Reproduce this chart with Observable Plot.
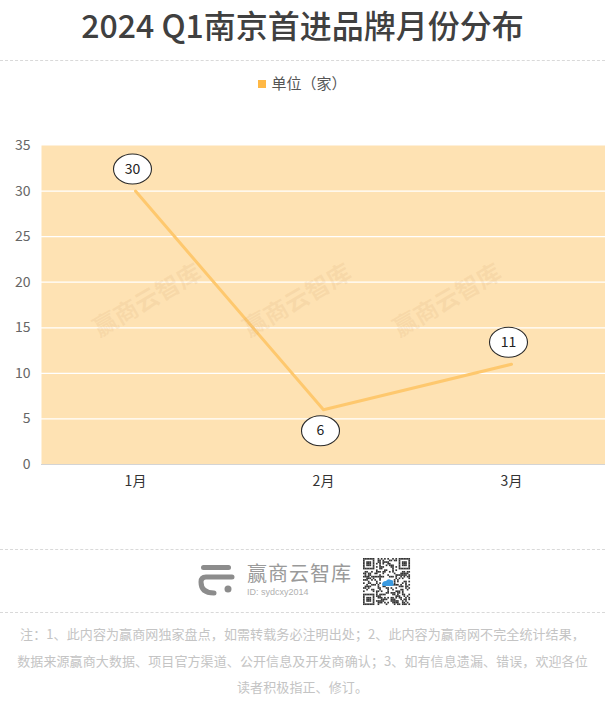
<!DOCTYPE html>
<html>
<head>
<meta charset="utf-8">
<script src="https://cdn.jsdelivr.net/npm/d3@7"></script>
<script src="https://cdn.jsdelivr.net/npm/@observablehq/plot@0.6"></script>
<style>
  html, body { margin: 0; padding: 0; background: #ffffff; }
  body { width: 605px; height: 701px; position: relative; overflow: hidden;
         font-family: "Noto Sans CJK SC", "Noto Sans", sans-serif; }
  .abs { position: absolute; }
  #title { left: 0; width: 605px; top: 3px; text-align: center; font-size: 32px;
           font-weight: 500; color: #404040; line-height: 42px; }
  .dash { left: 0; width: 605px; height: 0; border-top: 1px dashed #d9d9d9; }
  #legend { left: 0; width: 605px; top: 72px; text-align: center; font-size: 15px; color: #555; line-height: 22px; }
  #legend .sw { display: inline-block; width: 8px; height: 8px; background: #ffb845; margin-right: 5px; vertical-align: 1px; }
  .wm { font-size: 24px; font-weight: 700; color: rgba(215,165,110,0.16); transform: rotate(-30deg);
        transform-origin: center center; white-space: nowrap; pointer-events: none; }
  #foot { left: 0; width: 605px; top: 621px; text-align: center; font-size: 13px; color: #c4c4c4; line-height: 26.5px; letter-spacing: 0.1px; }
  #brand { left: 247px; top: 561px; font-size: 20px; color: #9a9a9a; line-height: 24px; letter-spacing: 1px; }
  #bid { left: 247px; top: 586px; font-size: 9px; color: #b0b0b0; line-height: 12px; font-family: "Liberation Sans", sans-serif; }
</style>
</head>
<body>
<script>
// ---- data ----
const months = ["1月", "2月", "3月"];
const counts = [30, 6, 11];
const yTicks = [0, 5, 10, 15, 20, 25, 30, 35];
const titleText = "2024 Q1南京首进品牌月份分布";
const legendText = "单位（家）";
const footLines = [
  "注：1、此内容为赢商网独家盘点，如需转载务必注明出处；2、此内容为赢商网不完全统计结果，",
  "数据来源赢商大数据、项目官方渠道、公开信息及开发商确认；3、如有信息遗漏、错误，欢迎各位",
  "读者积极指正、修订。"
];
const brandName = "赢商云智库";
const brandId = "ID: sydcxy2014";

const data = months.map((m, i) => {
  const prev = i > 0 ? counts[i - 1] : -Infinity;
  const next = i < counts.length - 1 ? counts[i + 1] : -Infinity;
  const isMin = i > 0 && counts[i] < prev && counts[i] < next;
  return { month: m, value: counts[i], below: isMin };
});
const above = data.filter(d => !d.below), below = data.filter(d => d.below);

// ellipse symbol
const ellipse = {
  draw(ctx, size) {
    const r = Math.sqrt(size / Math.PI);
    const rx = r * 19 / 15, ry = r, k = 0.5523;
    ctx.moveTo(rx, 0);
    ctx.bezierCurveTo(rx, k * ry, k * rx, ry, 0, ry);
    ctx.bezierCurveTo(-k * rx, ry, -rx, k * ry, -rx, 0);
    ctx.bezierCurveTo(-rx, -k * ry, -k * rx, -ry, 0, -ry);
    ctx.bezierCurveTo(k * rx, -ry, rx, -k * ry, rx, 0);
    ctx.closePath();
  }
};

// ---- page ----
const el = (tag, cls, html) => { const e = document.createElement(tag); if (cls) e.className = cls; if (html != null) e.innerHTML = html; document.body.appendChild(e); return e; };

const t = el("div", "abs"); t.id = "title"; t.textContent = titleText;
const d1 = el("div", "abs dash"); d1.style.top = "60px";
const lg = el("div", "abs"); lg.id = "legend"; lg.innerHTML = `<span class="sw"></span>${legendText}`;

const labelStyle = { symbol: ellipse, r: 15, fill: "white", stroke: "#2a2a2a", strokeWidth: 1.1, dx: -3 };

const chart = Plot.plot({
  width: 605,
  height: 380,
  marginTop: 15,
  marginBottom: 46,
  marginLeft: 41,
  marginRight: 0,
  style: { fontFamily: "'Noto Sans CJK SC', 'Noto Sans', sans-serif", background: "transparent" },
  x: { type: "band", domain: months, padding: 0, label: null },
  y: { domain: [0, 35], label: null },
  marks: [
    Plot.frame({ fill: "#fee2b3", stroke: null }),
    Plot.ruleY(yTicks.filter(d => d > 0 && d < 35), { stroke: "#ffffff", strokeWidth: 1.2 }),
    Plot.ruleY([0], { stroke: "#d4d4d4", strokeWidth: 1 }),
    Plot.axisY({ ticks: yTicks, tickSize: 0, tickPadding: 11, fontSize: 14, fill: "#666", label: null }),
    Plot.axisX({ tickSize: 0, tickPadding: 12, fontSize: 14, fill: "#333", label: null }),
    Plot.line(data, { x: "month", y: "value", stroke: "#fec86e", strokeWidth: 3 })
  ]
});
chart.classList.add("abs");
chart.style.left = "0px"; chart.style.top = "130px";
document.body.appendChild(chart);

// watermarks (decorative)
[148, 298, 448].forEach(cx => {
  const w = el("div", "abs wm", brandName);
  w.style.left = (cx - 62) + "px"; w.style.top = (298 - 17) + "px";
});

const overlay = Plot.plot({
  width: 605, height: 380, marginTop: 15, marginBottom: 46, marginLeft: 41, marginRight: 0,
  style: { fontFamily: "'Noto Sans CJK SC', 'Noto Sans', sans-serif", background: "transparent" },
  x: { type: "band", domain: months, padding: 0, axis: null },
  y: { domain: [0, 35], axis: null },
  marks: [
    Plot.dot(above, { x: "month", y: "value", ...labelStyle, dy: -22 }),
    Plot.text(above, { x: "month", y: "value", text: "value", dx: -3, dy: -22, fontSize: 14, fill: "#222" }),
    Plot.dot(below, { x: "month", y: "value", ...labelStyle, dy: 21 }),
    Plot.text(below, { x: "month", y: "value", text: "value", dx: -3, dy: 21, fontSize: 14, fill: "#222" })
  ]
});
overlay.classList.add("abs");
overlay.style.left = "0px"; overlay.style.top = "130px";
document.body.appendChild(overlay);

// bottom brand block
const d2 = el("div", "abs dash"); d2.style.top = "549px";
const d3b = el("div", "abs dash"); d3b.style.top = "612px";
const logo = el("div", "abs");
logo.style.left = "198px"; logo.style.top = "562px";
logo.innerHTML = `<svg width="38" height="34" viewBox="0 0 38 34">
  <rect x="3" y="3" width="30" height="5" rx="2.5" fill="#8c8c8c"/>
  <path d="M34 15 H8 Q3 15 3 20 Q3 31 16 31" fill="none" stroke="#8c8c8c" stroke-width="5" stroke-linecap="round"/>
  <circle cx="30" cy="27" r="3.5" fill="#8c8c8c"/>
</svg>`;
const bn = el("div", "abs"); bn.id = "brand"; bn.textContent = brandName;
const bi = el("div", "abs"); bi.id = "bid"; bi.textContent = brandId;

// decorative QR-like block
const qr = el("div", "abs");
qr.style.left = "363px"; qr.style.top = "558px";
(function () {
  const n = 29, s = 47 / n;
  let rects = "";
  const finder = (ox, oy) => {
    for (let i = 0; i < 7; i++) for (let j = 0; j < 7; j++) {
      const on = i === 0 || i === 6 || j === 0 || j === 6 || (i >= 2 && i <= 4 && j >= 2 && j <= 4);
      if (on) rects += `<rect x="${(ox + i) * s}" y="${(oy + j) * s}" width="${s + 0.05}" height="${s + 0.05}"/>`;
    }
  };
  finder(0, 0); finder(n - 7, 0); finder(0, n - 7);
  const inFinder = (i, j) => (i < 8 && j < 8) || (i >= n - 8 && j < 8) || (i < 8 && j >= n - 8);
  for (let i = 0; i < n; i++) for (let j = 0; j < n; j++) {
    if (inFinder(i, j)) continue;
    if (i >= 11 && i <= 17 && j >= 12 && j <= 16) continue;
    const h = ((i * 73856093) ^ (j * 19349663) ^ (i * j * 83492791)) >>> 0;
    if (h % 9 < 4) rects += `<rect x="${i * s}" y="${j * s}" width="${s + 0.05}" height="${s + 0.05}"/>`;
  }
  qr.innerHTML = `<svg width="48" height="48"><g fill="#333">${rects}</g>
    <path d="M19 27 Q19 23 23 23 Q25 20 28 22 Q31 22 30 25 Q32 27 29 28 H20 Z" fill="#3a9ae0"/></svg>`;
})();

const ft = el("div", "abs"); ft.id = "foot"; ft.innerHTML = footLines.join("<br>");
</script>
</body>
</html>
